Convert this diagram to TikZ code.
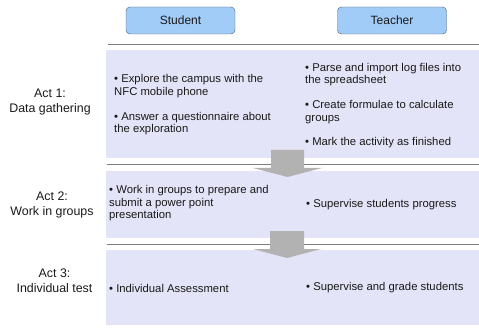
\documentclass[tikz,border=0pt]{standalone}
\usepackage{fontspec}
\setmainfont{Liberation Sans}
\definecolor{panelc}{RGB}{228,228,248}
\definecolor{hdrfill}{RGB}{162,204,248}
\definecolor{hdrline}{RGB}{80,90,110}
\definecolor{arrowc}{RGB}{178,178,178}
\definecolor{sepc}{RGB}{125,125,125}
\definecolor{txt}{RGB}{25,25,25}
\begin{document}
\begin{tikzpicture}[x=1pt,y=-1pt,
 panel/.style={fill=panelc, draw=none, anchor=north west, inner sep=0pt, minimum width=373pt},
 hdr/.style={draw=hdrline, fill=hdrfill, rounded corners=4pt, minimum width=109pt, minimum height=27pt, inner sep=0pt, text=txt, font=\fontsize{12}{14}\selectfont},
 item/.style={anchor=west, align=left, inner sep=0pt, text=txt, font=\fontsize{11.3}{12.5}\selectfont},
 act/.style={align=center, inner sep=0pt, text=txt, font=\fontsize{12.4}{15}\selectfont},
 sep/.style={draw=sepc, line width=1.2pt},
 blk/.style={fill=arrowc, draw=none}]
\useasboundingbox (0,0) rectangle (479,331);
% panels
\node[panel, minimum height=108pt] (p1) at (106,50) {};
\node[panel, minimum height=67pt] (p2) at (106,171) {};
\node[panel, minimum height=75pt] (p3) at (106,250) {};
% separators
\coordinate (s0a) at (108,44); \coordinate (s0b) at (479,44);
\coordinate (s1a) at (107,164.5); \coordinate (s1b) at (479,164.5);
\coordinate (s2a) at (107,244.5); \coordinate (s2b) at (479,244.5);
\draw[sep, line width=0.9pt] (s0a) -- (s0b);
\draw[sep] (s1a) -- (s1b);
\draw[sep] (s2a) -- (s2b);
% block arrows
\fill[blk] (271,150) -- (304,150) -- (304,168) -- (322,168) -- (287.5,177) -- (253,168) -- (271,168) -- cycle;
\fill[blk] (270,231) -- (304,231) -- (304,249) -- (321,249) -- (287,258) -- (253,249) -- (270,249) -- cycle;
% headers
\node[hdr] (student) at (180.5,20.5) {Student};
\node[hdr] (teacher) at (392,20.5) {Teacher};
% act labels
\node[act] (act1) at (50,102) {Act 1:\\Data gathering};
\node[act] (act2) at (52,204.5) {Act 2:\\Work in groups};
\node[act] (act3) at (54.5,280.5) {Act 3:\\Individual test};
% act 1 items
\node[item] (s11) at (114,86) {• Explore the campus with the\\NFC mobile phone};
\node[item] (s12) at (114,123.5) {• Answer a questionnaire about\\the exploration};
\node[item] (t11) at (305,74.5) {• Parse and import log files into\\the spreadsheet};
\node[item] (t12) at (305,112) {• Create formulae to calculate\\groups};
\node[item] (t13) at (305,143) {• Mark the activity as finished};
% act 2 items
\node[item] (s21) at (109,203.5) {• Work in groups to prepare and\\submit a power point\\presentation};
\node[item] (t21) at (306,205) {• Supervise students progress};
% act 3 items
\node[item] (s31) at (109,288) {• Individual Assessment};
\node[item] (t31) at (306,288) {• Supervise and grade students};
\end{tikzpicture}
\end{document}
